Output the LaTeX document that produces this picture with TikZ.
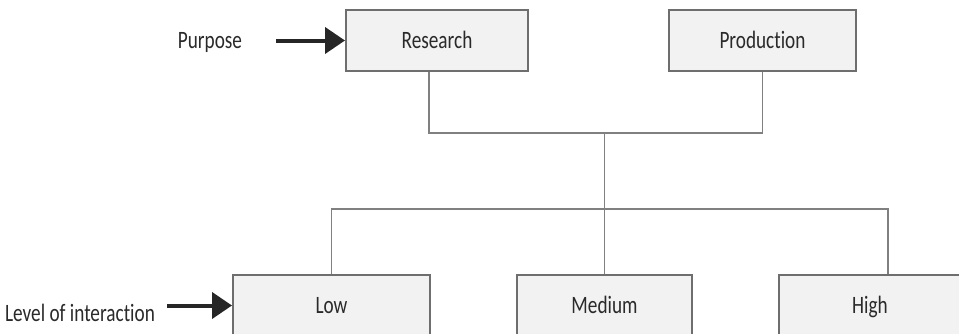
\documentclass[tikz,border=0pt]{standalone}
\usepackage{fontspec}
\setmainfont{Carlito}[FakeStretch=0.77,Ligatures=NoCommon]
\usetikzlibrary{arrows.meta}
\definecolor{boxfill}{HTML}{F2F2F2}
\definecolor{boxline}{HTML}{6E6E6E}
\definecolor{linkline}{HTML}{808080}
\definecolor{inktext}{HTML}{2A2A2A}
\definecolor{pointer}{HTML}{262626}
\begin{document}
\begin{tikzpicture}[x=1pt,y=-1pt,
  catbox/.style={draw=boxline,line width=2pt,fill=boxfill,rectangle,
    minimum height=61pt,inner sep=0pt,text height=16pt,text depth=0pt,
    font=\fontsize{25}{28}\selectfont,text=inktext},
  sidelabel/.style={inner sep=0pt,text height=16pt,text depth=0pt,
    font=\fontsize{25}{28}\selectfont,text=inktext},
  conn/.style={draw=linkline,line width=1.6pt},
  bigarrow/.style={draw=pointer,line width=4pt,
    -{Triangle[length=20pt,width=26pt]}}]
\useasboundingbox (0,0) rectangle (959,333);
\clip (0,0) rectangle (959,333);
\fill[white] (0,0) rectangle (959,333);

% top row: purpose
\node[catbox,minimum width=182pt] (research) at (437,40.5) {Research};
\node[catbox,minimum width=187pt] (production) at (762.5,40.5) {Production};

% bottom row: level of interaction
\node[catbox,minimum width=197pt] (low) at (331.5,305.5) {Low};
\node[catbox,minimum width=175pt] (medium) at (604.5,305.5) {Medium};
\node[catbox,minimum width=182pt] (high) at (870,305.5) {High};

% side labels
\node[sidelabel] (purpose) at (210,40.5) {Purpose};
\node[sidelabel] (level) at (80,313) {Level of interaction};

% junctions
\coordinate (jtop) at (604,133);
\coordinate (jbot) at (604,209);

% connectors
\draw[conn] ([xshift=84pt]research.south west) |- (production.south |- jtop)
  -- (production.south);
\draw[conn] (medium.north) -- (medium.north |- jtop);
\draw[conn] (low.north) |- (jbot) -| ([xshift=18pt]high.north);

% pointers
\draw[bigarrow] ([xshift=34pt]purpose.east) -- (research.west);
\draw[bigarrow] ([xshift=12pt]level.east |- low.west) -- (low.west);
\end{tikzpicture}
\end{document}
